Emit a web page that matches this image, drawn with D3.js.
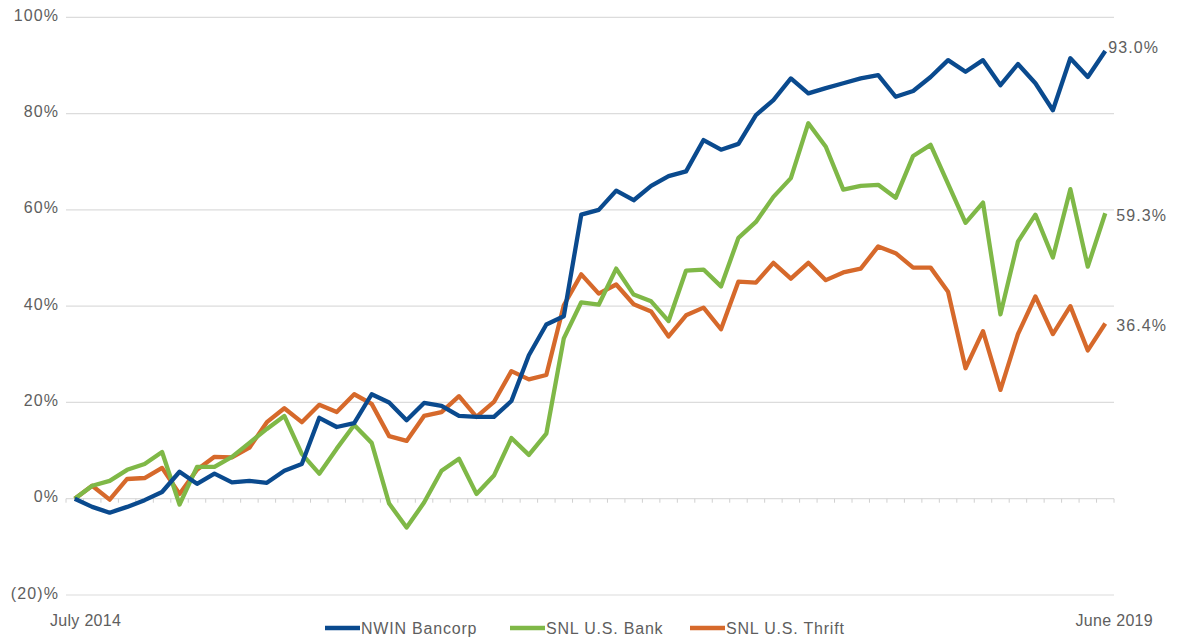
<!DOCTYPE html>
<html>
<head>
<meta charset="utf-8">
<script src="https://cdn.jsdelivr.net/npm/d3@7"></script>
<style>
  body { margin: 0; background: #fff; }
  text { font-family: "Liberation Sans", Arial, sans-serif; fill: #5e5e5e; letter-spacing: 1.1px; }
</style>
</head>
<body>
<svg id="chart" width="1179" height="639"></svg>
<script>
// monthly cumulative return, July 2014 .. June 2019 (60 months)
var months = d3.range(60);

var nwin = [0,-1.7,-2.9,-1.7,-0.3,1.4,5.6,3.1,5.2,3.4,
  3.7,3.3,5.8,7.2,16.8,14.9,15.7,21.7,20,16.3,
  19.9,19.3,17.2,17,17,20.3,29.8,36.2,37.9,59,
  60,64,62,65,67,68,74.5,72.5,73.7,79.7,
  82.8,87.3,84.2,85.3,86.3,87.3,88,83.5,84.7,87.6,
  91.1,88.7,91.1,85.9,90.3,86.3,80.7,91.5,87.6,93.0];

var bank = [0,2.7,3.7,6,7.2,9.7,-1.2,6.6,6.6,8.7,
  11.6,14.5,17.2,9.3,5.2,10.4,15.3,11.6,-1,-6,
  -0.8,5.8,8.3,1,4.8,12.6,9.1,13.5,33.3,40.8,
  40.3,47.8,42.4,41,36.9,47.4,47.6,44.1,54.2,57.5,
  62.7,66.6,78,73.1,64.2,65,65.2,62.5,71.2,73.5,
  65.4,57.3,61.5,38.3,53.4,59,50.1,64.3,48.2,59.3];

var thrift = [0,2.7,-0.2,4.1,4.3,6.4,1,6,8.7,8.6,
  10.6,15.9,18.8,15.9,19.5,18,21.7,19.7,13,12,
  17.2,18,21.3,17,20.1,26.5,24.8,25.7,40.2,46.6,
  42.6,44.5,40.4,38.9,33.7,38.1,39.7,35.2,45.1,44.9,
  49,45.7,49,45.4,47,47.8,52.4,51,48,48,
  43,27.1,34.8,22.6,34.2,42,34.2,40,30.8,36.4];

var yTicks = [-20, 0, 20, 40, 60, 80, 100];
var seriesNames = ["NWIN Bancorp", "SNL U.S. Bank", "SNL U.S. Thrift"];
var endLabels = ["93.0%", "59.3%", "36.4%"];
var colors = ["#0a4a8e", "#7fb847", "#d6692b"];

var svg = d3.select("#chart");

var x = d3.scaleBand()
  .domain(months)
  .range([66, 1114]);

var y = d3.scaleLinear()
  .domain([-20, 100])
  .range([595, 17.3]);

function fmt(v) {
  return v < 0 ? "(" + Math.abs(v) + ")%" : v + "%";
}

// grid lines
svg.append("g")
  .selectAll("line")
  .data(yTicks)
  .join("line")
  .attr("x1", 66)
  .attr("x2", 1114)
  .attr("y1", d => y(d))
  .attr("y2", d => y(d))
  .style("stroke", "#dcdcdc")
  .style("stroke-width", 1.2);

// y labels
svg.append("g")
  .selectAll("text")
  .data(yTicks)
  .join("text")
  .attr("x", 59)
  .attr("y", d => y(d) - 2)
  .attr("dy", "0.35em")
  .attr("text-anchor", "end")
  .style("font-size", "16px")
  .text(fmt);

// small ticks on the 0% line, at month boundaries
var bounds = months.map(d => x(d)).concat([x(59) + x.bandwidth()]);
svg.append("g")
  .selectAll("line")
  .data(bounds)
  .join("line")
  .attr("x1", d => d)
  .attr("x2", d => d)
  .attr("y1", y(0))
  .attr("y2", y(0) + 4)
  .style("stroke", "#d0d0d0")
  .style("stroke-width", 1);

var cx = d => x(d) + x.bandwidth() / 2;

var line = d3.line()
  .x((d, i) => cx(i))
  .y(d => y(d));

var allSeries = [nwin, bank, thrift];

// draw thrift first, then bank, then nwin on top
[2, 1, 0].forEach(function (k) {
  svg.append("path")
    .datum(allSeries[k])
    .attr("d", line)
    .style("fill", "none")
    .style("stroke", colors[k])
    .style("stroke-width", 4.3)
    .style("stroke-linejoin", "round");
});

// end value labels
var endOffsets = [-4, 2, 2];
allSeries.forEach(function (s, k) {
  svg.append("text")
    .attr("x", cx(59) + 3 + (k ? 8 : 0))
    .attr("y", y(s[59]) + endOffsets[k])
    .attr("dy", "0.35em")
    .style("font-size", "16px")
    .text(endLabels[k]);
});

// bottom labels
svg.append("text")
  .attr("x", 50)
  .attr("y", 626)
  .style("font-size", "16px")
  .style("letter-spacing", "0.3px")
  .text("July 2014");

svg.append("text")
  .attr("x", 1153)
  .attr("y", 626)
  .attr("text-anchor", "end")
  .style("font-size", "16px")
  .style("letter-spacing", "0.3px")
  .text("June 2019");

// legend
var legendX = [325, 510, 690];
seriesNames.forEach(function (name, k) {
  svg.append("line")
    .attr("x1", legendX[k])
    .attr("x2", legendX[k] + 35)
    .attr("y1", 628)
    .attr("y2", 628)
    .style("stroke", colors[k])
    .style("stroke-width", 4.3);
  svg.append("text")
    .attr("x", legendX[k] + 36)
    .attr("y", 634)
    .style("font-size", "16px")
    .style("letter-spacing", "0.8px")
    .text(name);
});
</script>
</body>
</html>
